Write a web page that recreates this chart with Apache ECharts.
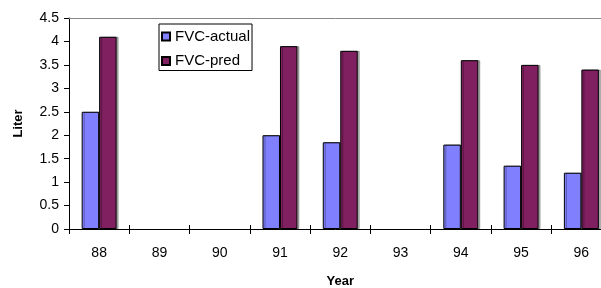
<!DOCTYPE html>
<html>
<head>
<meta charset="utf-8">
<script src="https://cdn.jsdelivr.net/npm/echarts@6/dist/echarts.min.js"></script>
<style>
  html, body { margin: 0; padding: 0; background: #fff; }
  #chart { width: 601px; height: 288px; }
</style>
</head>
<body>
<div id="chart"></div>
<script>
// 数据
const years = ['88', '89', '90', '91', '92', '93', '94', '95', '96']
const fvcActual = [2.5, null, null, 2.0, 1.85, null, 1.8, 1.35, 1.2]
const fvcPred = [4.1, null, null, 3.9, 3.8, null, 3.6, 3.5, 3.4]
const yTicks = { min: 0, max: 4.5, step: 0.5 }

const font = 'Liberation Sans, Arial, sans-serif'

const chart = echarts.init(document.getElementById('chart'))
chart.setOption({
  animation: false,
  textStyle: { fontFamily: font },
  grid: {
    left: 69, top: 18, width: 542.5, height: 211,
    containLabel: false,
    outerBoundsMode: 'none'
  },
  legend: {
    orient: 'vertical',
    left: 159,
    top: 24,
    padding: [5, 2, 2, 2],
    itemGap: 9.5,
    itemWidth: 8,
    itemHeight: 8,
    icon: 'rect',
    backgroundColor: '#fff',
    borderColor: '#000',
    borderWidth: 1,
    textStyle: { fontSize: 15, color: '#000', fontFamily: font },
    data: ['FVC-actual', 'FVC-pred']
  },
  xAxis: [
    {
      type: 'category',
      data: years,
      position: 'bottom',
      name: 'Year',
      nameLocation: 'middle',
      nameGap: 46,
      nameTextStyle: { fontSize: 13, fontWeight: 'bold', color: '#000' },
      axisLine: { lineStyle: { color: '#000', width: 1 } },
      axisTick: { show: true, interval: 0, length: 5, lineStyle: { color: '#000' } },
      axisLabel: { fontSize: 14, color: '#000', margin: 17, interval: 0 }
    },
    {
      // 刻度线向内的那一半
      type: 'category',
      data: years,
      position: 'bottom',
      axisLine: { show: false },
      axisTick: { show: true, inside: true, interval: 0, length: 4, lineStyle: { color: '#000' } },
      axisLabel: { show: false }
    },
    {
      // 顶部灰线
      type: 'category',
      data: years,
      position: 'top',
      axisLine: { onZero: false, lineStyle: { color: '#888', width: 1 } },
      axisTick: { show: false },
      axisLabel: { show: false }
    }
  ],
  yAxis: {
    type: 'value',
    min: yTicks.min,
    max: yTicks.max,
    interval: yTicks.step,
    name: 'Liter',
    nameLocation: 'middle',
    nameGap: 44,
    nameTextStyle: { fontSize: 13, fontWeight: 'bold', color: '#000' },
    axisLine: { show: true, lineStyle: { color: '#000', width: 1 } },
    axisTick: { show: true, length: 5, lineStyle: { color: '#000' } },
    axisLabel: { fontSize: 14, color: '#000', margin: 10 },
    splitLine: { show: false }
  },
  series: [
    {
      name: 'FVC-actual',
      type: 'bar',
      xAxisIndex: 0,
      data: fvcActual,
      barGap: 0,
      barCategoryGap: '42%',
      itemStyle: {
        color: '#8080ff',
        borderColor: '#000',
        borderWidth: 1,
        shadowColor: 'rgba(0,0,0,0.3)',
        shadowOffsetX: 2,
        shadowOffsetY: 0
      }
    },
    {
      name: 'FVC-pred',
      type: 'bar',
      xAxisIndex: 0,
      data: fvcPred,
      barGap: 0,
      barCategoryGap: '42%',
      itemStyle: {
        color: '#802060',
        borderColor: '#000',
        borderWidth: 1,
        shadowColor: 'rgba(0,0,0,0.3)',
        shadowOffsetX: 2,
        shadowOffsetY: 0
      }
    }
  ]
})
</script>
</body>
</html>
